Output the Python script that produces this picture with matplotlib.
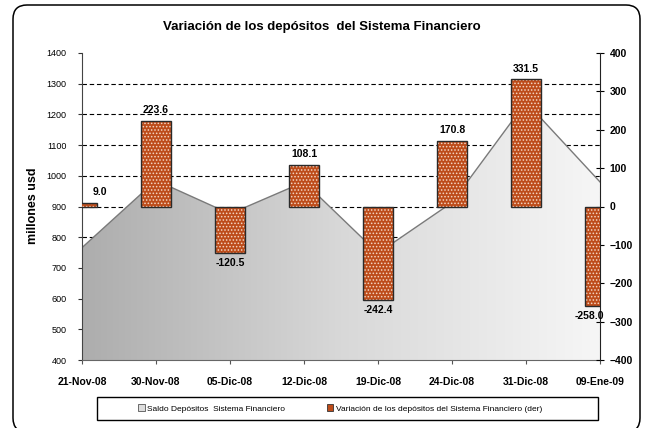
import numpy as np
import matplotlib.pyplot as plt
from matplotlib.colors import LinearSegmentedColormap
from matplotlib.patches import FancyBboxPatch, Rectangle, Patch
from matplotlib.transforms import IdentityTransform

# datos
fechas = ['21-Nov-08', '30-Nov-08', '05-Dic-08', '12-Dic-08',
          '19-Dic-08', '24-Dic-08', '31-Dic-08', '09-Ene-09']
saldo = [766, 985, 876, 980, 748, 913, 1240, 980]
variacion = [9.0, 223.6, -120.5, 108.1, -242.4, 170.8, 331.5, -258.0]

plt.rcParams['font.family'] = ['Liberation Sans', 'DejaVu Sans']
plt.rcParams['hatch.linewidth'] = 0.7

W, H = 649, 428
fig = plt.figure(figsize=(W / 100, H / 100), dpi=100)


def fx(px):
    return px / W


def fy(py):
    return 1 - py / H


# marco redondeado exterior (en pixeles)
fig.patches.append(FancyBboxPatch((13, H - 432), 627, 427,
                                  boxstyle='round,pad=0,rounding_size=14',
                                  transform=IdentityTransform(), fill=False,
                                  ec='black', lw=1.1))

ax = fig.add_axes([fx(82), fy(360), fx(600) - fx(82), fy(53) - fy(360)])
x = np.arange(len(fechas))

# area con degradado
poly = ax.fill_between(x, saldo, 400, facecolor='none', edgecolor='none')
cmap = LinearSegmentedColormap.from_list('gris', ['#adadad', '#d8d8d8', '#f6f6f6'])
img = ax.imshow(np.linspace(0, 1, 256).reshape(1, -1), extent=[0, 7, 400, 1400],
                aspect='auto', cmap=cmap, zorder=1)
img.set_clip_path(poly.get_paths()[0], transform=ax.transData)
ax.plot(x, saldo, color='#7a7a7a', lw=1, zorder=2)

ax.set_xlim(0, 7)
ax.set_ylim(400, 1400)
ax.set_yticks(range(400, 1401, 100))
ax.yaxis.grid(True, ls=(0, (4, 2.5)), color='black', lw=0.8)
ax.get_ygridlines()[-1].set_visible(False)
ax.set_axisbelow(True)
ax.set_xticks(x)
ax.set_xticklabels(fechas, fontweight='bold', fontsize=7.5)
ax.tick_params(axis='x', direction='out', length=3, pad=9, color='#555555')
ax.tick_params(axis='y', direction='out', length=3, labelsize=6.5, pad=8, color='#333333')
for s in ['top', 'right']:
    ax.spines[s].set_visible(False)
ax.spines['left'].set_color('#444444')
ax.spines['bottom'].set_color('#666666')

# barras de variacion (eje derecho)
ax2 = ax.twinx()
ax2.bar(x, variacion, width=0.4, color='#bd4c1a', edgecolor='#f4d6c4',
        hatch='.....', lw=0, zorder=3)
ax2.bar(x, variacion, width=0.4, fill=False, edgecolor='#2a2a2a', lw=1, zorder=4)
ax2.set_ylim(-400, 400)
ax2.set_yticks(range(-400, 401, 100))
ax2.tick_params(axis='y', direction='inout', length=6, labelsize=7.5, pad=4)
for lab in ax2.get_yticklabels():
    lab.set_fontweight('bold')
ax2.spines['top'].set_visible(False)
ax2.spines['left'].set_visible(False)
ax2.spines['bottom'].set_visible(False)
ax2.spines['right'].set_color('#222222')

for i, v in enumerate(variacion):
    dx = 0
    if i == 0:
        dx = 13
    elif i == len(variacion) - 1:
        dx = -8
    ax2.annotate(f'{v:.1f}', (x[i], v), xytext=(dx, 4 if v > 0 else -4),
                 textcoords='offset points', ha='center',
                 va='bottom' if v > 0 else 'top', fontweight='bold',
                 fontsize=7.5, annotation_clip=False, zorder=5)

fig.text(fx(322), fy(27), 'Variación de los depósitos  del Sistema Financiero',
         ha='center', va='center', fontweight='bold', fontsize=9.5)
fig.text(fx(33), fy(206), 'millones usd', rotation=90, ha='center', va='center',
         fontweight='bold', fontsize=9)

# leyenda
fig.patches.append(Rectangle((97, H - 420), 501, 23, transform=IdentityTransform(),
                             fill=False, ec='black', lw=1))
handles = [Patch(facecolor='#dddddd', edgecolor='#555555', lw=0.6),
           Patch(facecolor='#bd4c1a', edgecolor='#333333', lw=0.6)]
fig.legend(handles, ['Saldo Depósitos  Sistema Financiero',
                     'Variación de los depósitos del Sistema Financiero (der)'],
           loc='center', bbox_to_anchor=(fx(340), fy(408.5)), ncol=2, frameon=False,
           fontsize=6, handlelength=0.8, handleheight=0.8, handletextpad=0.3,
           columnspacing=5)

fig.savefig('out.png', dpi=100)
